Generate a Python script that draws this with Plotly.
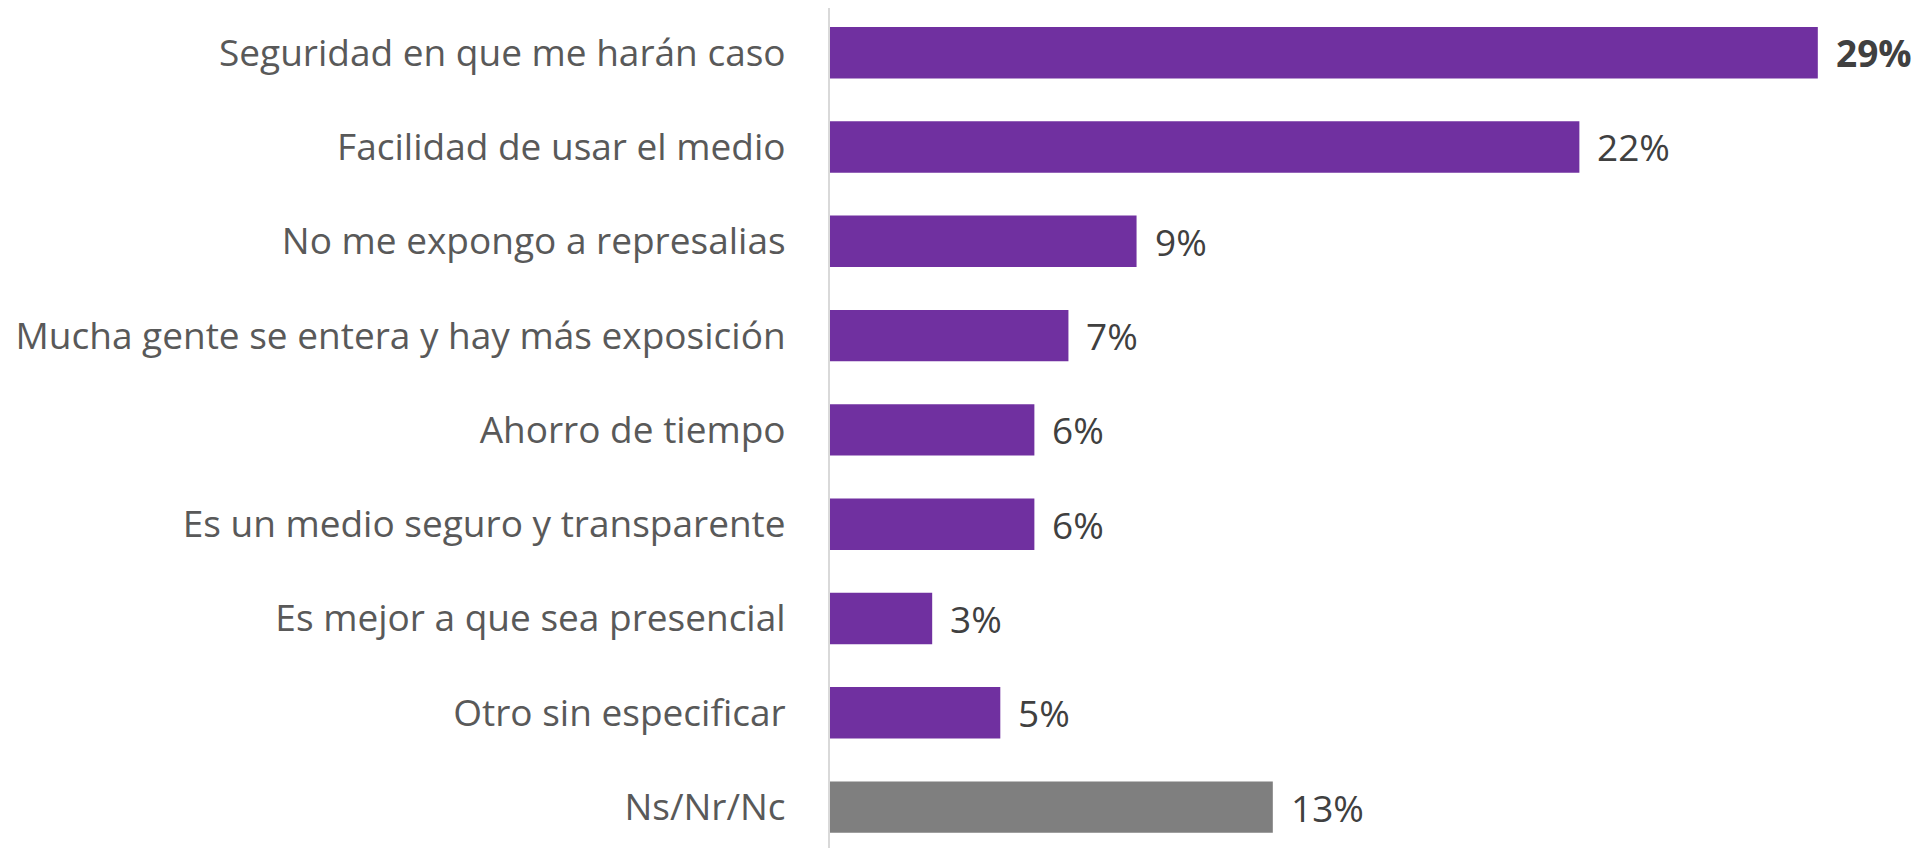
import plotly.graph_objects as go

categories = [
    "Seguridad en que me harán caso",
    "Facilidad de usar el medio",
    "No me expongo a represalias",
    "Mucha gente se entera y hay más exposición",
    "Ahorro de tiempo",
    "Es un medio seguro y transparente",
    "Es mejor a que sea presencial",
    "Otro sin especificar",
    "Ns/Nr/Nc",
]
values = [29, 22, 9, 7, 6, 6, 3, 5, 13]
value_labels = ["29%", "22%", "9%", "7%", "6%", "6%", "3%", "5%", "13%"]
bold_flags = [True, False, False, False, False, False, False, False, False]

PURPLE = "#7030A0"
GRAY = "#7F7F7F"
colors = [GRAY if c == "Ns/Nr/Nc" else PURPLE for c in categories]

FONT = "Open Sans"

fig = go.Figure(
    go.Bar(
        x=values,
        y=categories,
        orientation="h",
        marker=dict(color=colors, line=dict(width=0)),
        hoverinfo="skip",
    )
)

for c, v, lab, b in zip(categories, values, value_labels, bold_flags):
    fig.add_annotation(
        x=v, y=c, text=f"<b>{lab}</b>" if b else lab,
        xanchor="left", yanchor="middle", xshift=16, showarrow=False,
        font=dict(family=FONT, size=37, color="#404040"),
    )

fig.update_layout(
    width=1913, height=840,
    margin=dict(l=822, r=1, t=0, b=0),
    paper_bgcolor="white", plot_bgcolor="white",
    bargap=0.455,
    showlegend=False,
    xaxis=dict(range=[0, 32], visible=False, fixedrange=True),
    yaxis=dict(
        categoryorder="array", categoryarray=categories,
        range=[8.434, -0.474],
        showline=True, linecolor="#D9D9D9", linewidth=2,
        showgrid=False, zeroline=False,
        ticks="", ticklabelstandoff=35,
        tickfont=dict(family=FONT, size=37, color="#595959"),
    ),
)

fig.write_html("out.html")
